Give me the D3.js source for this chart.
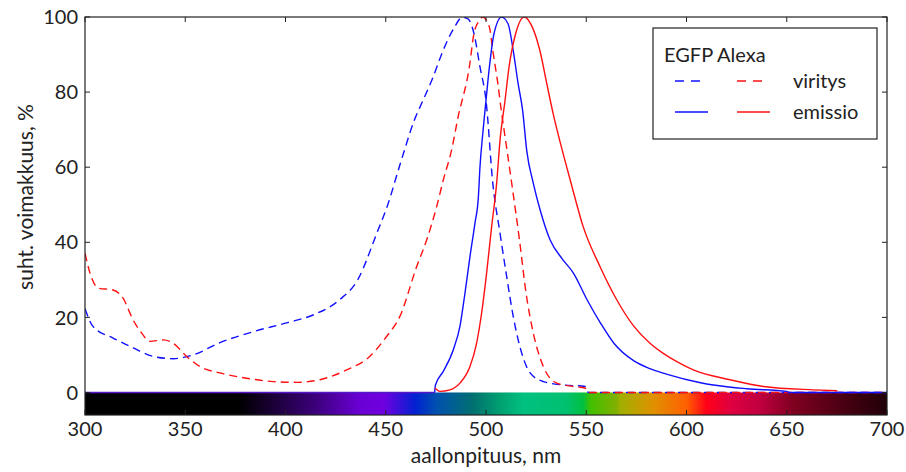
<!DOCTYPE html>
<html>
<head>
<meta charset="utf-8">
<script src="https://cdn.jsdelivr.net/npm/d3@7"></script>
<style>
  body { margin: 0; background: #fff; }
  svg text { font-family: Lato, "Open Sans", sans-serif; fill: #222; }
</style>
</head>
<body>
<div id="chart"></div>
<script>
// EGFP excitation (nm, %)
const egfpEx = [[300,22.3],[304,17.6],[314,14.5],[324,11.9],[334,9.6],[344,9.0],[354,10],[367,13.2],[384,16.2],[401,18.6],
  [414,20.7],[427,24.7],[436,30],[445.6,42.5],[451,50],[457,60.5],[464.6,73],[468.6,77.8],[473.6,84],[478.6,91.1],[484,97],
  [488,99.9],[491,99.5],[494,95.6],[497,86.7],[500,77.8],[503.4,55.7],[507,42.4],[510.3,30.9],[513.6,20.2],[517.8,10.5],
  [522,5.2],[528.6,2.9],[538.6,2.0],[549.6,1.6],[551,0],[700,0]];
// Alexa excitation
const alexaEx = [[300,37.1],[302.5,31.8],[306.6,27.8],[314,27.3],[319,25.1],[324,19.3],[328.3,15.8],[332.4,13.6],[339,14.0],
  [344,13.1],[350.7,9.6],[357.4,6.9],[367.3,5.2],[380.6,3.8],[393.9,2.9],[405.6,2.7],[417.2,3.4],[430.5,6.0],[442,9.6],
  [450.4,14.9],[457,20.2],[465.4,33.5],[470.4,40.6],[475.4,49.5],[478.7,56.6],[482.8,64.5],[486.1,73.4],[491.7,86.7],
  [494,95.6],[496.7,99.1],[498.3,100],[501.7,97.3],[503.4,91],[505.9,82.3],[507.6,75.2],[510,66.3],[513.3,53.9],
  [516.7,40.6],[520,26.4],[523.6,15.8],[528.6,6.9],[535.3,2.5],[543.6,1.6],[549.4,1.2],[551,0],[700,0]];
// EGFP emission
const egfpEm = [[474.4,0],[474.8,2.0],[478.7,5.6],[483.7,11.4],[487,17.6],[489.5,26.4],[492,36.2],[494.5,45.1],[496.2,52.1],
  [497,60.1],[498.4,69],[500,77.8],[501.7,86.7],[504,95.6],[507.8,100],[511,98.2],[513.6,91],[516,82.3],[518.3,75],
  [520.3,64.5],[523.6,55.7],[527,48.6],[532,40.6],[538,35.6],[543.6,31.8],[550.4,24.7],[557.1,18.5],[563.8,13.1],
  [573.8,8.4],[581,6.5],[590,4.9],[607,2.6],[613.4,2.0],[630,1.0],[650,0.3],[651,0],[700,0]];
// Alexa emission
const alexaEm = [[474.6,1.2],[477,0.3],[482,0.7],[487,2.5],[492,6.9],[495.3,13.1],[497.8,21.1],[500.3,31.8],[502.8,44.1],
  [505.3,55.7],[507,67.2],[509.5,77.8],[511.5,86.7],[514.8,95.6],[519,100],[523.1,97.3],[526.9,91],[530.3,82.3],
  [533.6,74],[537.3,66],[542.3,56],[548.5,44.1],[556.9,33.5],[565.2,24.7],[573.5,17.8],[581.8,13.1],[588.4,10.4],
  [595.2,8.2],[603.4,6.0],[621.7,3.4],[638.3,1.6],[663.2,0.7],[675.2,0.45]];

const baseline = [[300,0],[474.4,0]];

// visible spectrum colour bar stops (nm, colour)
const spectrumStops = [[300,"#000000"],[377,"#000000"],[414,"#3a0078"],[437,"#6a00d4"],[449,"#7000e0"],[465,"#0022d0"],
  [475,"#0050b0"],[493.5,"#007070"],[507,"#00a070"],[518.5,"#00c080"],[540,"#00c070"],[548.5,"#00c040"],[552,"#40c000"],
  [565,"#80b000"],[567,"#a0b000"],[583.5,"#e09000"],[600,"#ff6000"],[610,"#ff0018"],[621.7,"#e00040"],[636.7,"#c00040"],
  [653,"#800020"],[683,"#400010"],[700,"#200008"]];

const xTicks = [300,350,400,450,500,550,600,650,700];
const yTicks = [0,20,40,60,80,100];

const series = [
  {name: "EGFP viritys", data: egfpEx, color: "#1010ff", dash: "8,5"},
  {name: "Alexa viritys", data: alexaEx, color: "#ff1010", dash: "8,5"},
  {name: "EGFP emissio", data: egfpEm, color: "#1010ff", dash: null},
  {name: "Alexa emissio", data: alexaEm, color: "#ff1010", dash: null}
];

const W = 906, H = 472;
const margin = {top: 17, right: 19, bottom: 57, left: 85};
const width = W - margin.left - margin.right,
      height = H - margin.top - margin.bottom;

const svg = d3.select("#chart").append("svg")
  .attr("width", W).attr("height", H);
const g = svg.append("g").attr("transform", `translate(${margin.left},${margin.top})`);

const x = d3.scaleLinear().domain([300, 700]).range([0, width]);
const y = d3.scaleLinear().domain([-6, 100]).range([height, 0]);

// colour bar below zero
const defs = svg.append("defs");
const grad = defs.append("linearGradient").attr("id", "spec")
  .attr("gradientUnits", "userSpaceOnUse")
  .attr("x1", x(300)).attr("x2", x(700)).attr("y1", 0).attr("y2", 0);
grad.selectAll("stop").data(spectrumStops).join("stop")
  .attr("offset", d => (d[0] - 300) / 400)
  .attr("stop-color", d => d[1]);
defs.append("clipPath").attr("id", "clip").append("rect")
  .attr("width", width).attr("height", height);

g.append("rect")
  .attr("x", x(300)).attr("y", y(0))
  .attr("width", x(700) - x(300)).attr("height", y(-6) - y(0))
  .attr("fill", "url(#spec)");

const line = d3.line().x(d => x(d[0])).y(d => y(d[1])).curve(d3.curveMonotoneX);
const plot = g.append("g").attr("clip-path", "url(#clip)");

plot.append("path").datum(baseline)
  .attr("d", line).attr("fill", "none")
  .attr("stroke", "#5418c8").attr("stroke-width", 1.6);

series.forEach(s => {
  plot.append("path").datum(s.data)
    .attr("d", line).attr("fill", "none")
    .attr("stroke", s.color).attr("stroke-width", 1.4)
    .attr("stroke-dasharray", s.dash);
});

// frame
g.append("rect").attr("width", width).attr("height", height)
  .attr("fill", "none").attr("stroke", "#222").attr("stroke-width", 1.2);

// ticks pointing inward
const tl = 5;
g.append("g").selectAll("line").data(xTicks).join("line")
  .attr("x1", d => x(d)).attr("x2", d => x(d))
  .attr("y1", height).attr("y2", height - tl).attr("stroke", "#222");
g.append("g").selectAll("line").data(xTicks).join("line")
  .attr("x1", d => x(d)).attr("x2", d => x(d))
  .attr("y1", 0).attr("y2", tl).attr("stroke", "#222");
g.append("g").selectAll("line").data(yTicks).join("line")
  .attr("x1", 0).attr("x2", tl)
  .attr("y1", d => y(d)).attr("y2", d => y(d)).attr("stroke", "#222");
g.append("g").selectAll("line").data(yTicks).join("line")
  .attr("x1", width).attr("x2", width - tl)
  .attr("y1", d => y(d)).attr("y2", d => y(d)).attr("stroke", "#222");

// tick labels
g.append("g").selectAll("text").data(xTicks).join("text")
  .attr("x", d => x(d)).attr("y", height + 21)
  .attr("text-anchor", "middle").style("font-size", "20px")
  .text(d => d);
g.append("g").selectAll("text").data(yTicks).join("text")
  .attr("x", -7).attr("y", d => y(d)).attr("dy", "0.36em")
  .attr("text-anchor", "end").style("font-size", "20px")
  .text(d => d);

// axis labels
svg.append("text")
  .attr("x", margin.left + width / 2).attr("y", 463)
  .attr("text-anchor", "middle").style("font-size", "21px")
  .text("aallonpituus, nm");
svg.append("text")
  .attr("transform", "translate(33,197) rotate(-90)")
  .attr("text-anchor", "middle").style("font-size", "21px")
  .text("suht. voimakkuus, %");

// legend
const leg = svg.append("g");
leg.append("rect").attr("x", 653).attr("y", 28).attr("width", 224).attr("height", 111)
  .attr("fill", "#fff").attr("stroke", "#222").attr("stroke-width", 1.2);
leg.append("text").attr("x", 664).attr("y", 62).style("font-size", "20px").text("EGFP Alexa");
const rows = [
  {label: "viritys", dash: "9,7", y: 81, lens: [25, 25]},
  {label: "emissio", dash: null, y: 112, lens: [33, 33]}
];
rows.forEach(r => {
  leg.append("line").attr("x1", 675).attr("x2", 675 + r.lens[0]).attr("y1", r.y).attr("y2", r.y)
    .attr("stroke", "#1010ff").attr("stroke-width", 1.4).attr("stroke-dasharray", r.dash);
  leg.append("line").attr("x1", 737).attr("x2", 737 + r.lens[1]).attr("y1", r.y).attr("y2", r.y)
    .attr("stroke", "#ff1010").attr("stroke-width", 1.4).attr("stroke-dasharray", r.dash);
  leg.append("text").attr("x", 793).attr("y", r.y).attr("dy", "0.36em")
    .style("font-size", "20px").text(r.label);
});
</script>
</body>
</html>
